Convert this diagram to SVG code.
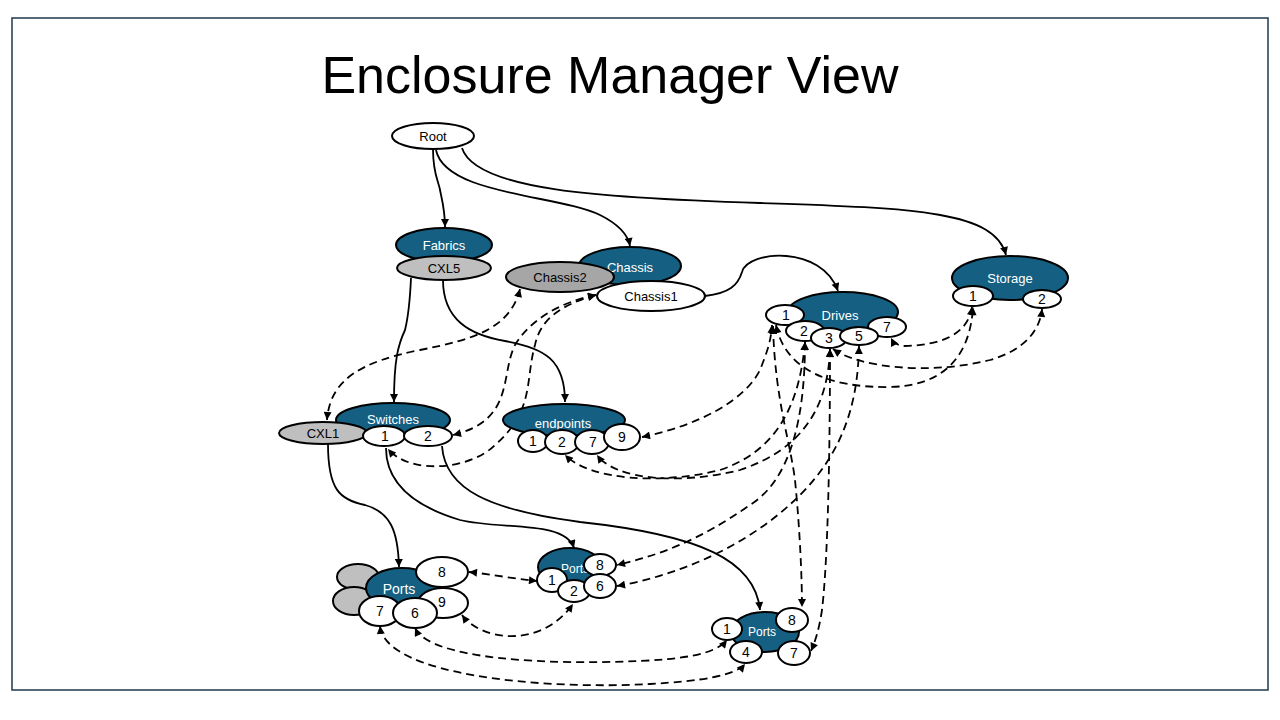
<svg xmlns="http://www.w3.org/2000/svg" width="1280" height="720" viewBox="0 0 1280 720">
<defs>
<marker id="ah" viewBox="0 0 10 10" refX="10" refY="5" markerWidth="9" markerHeight="8" markerUnits="userSpaceOnUse" orient="auto-start-reverse">
<path d="M0,0 L10,5 L0,10 z" fill="#000"/>
</marker>
</defs>
<style>
.frame{fill:#fff;stroke:#1e3a4c;stroke-width:1.5}
.title{font-family:"Liberation Sans",Arial,sans-serif;font-size:52px;fill:#000}
.b{fill:#156082;stroke:#000;stroke-width:2}
.w{fill:#fff;stroke:#000;stroke-width:2}
.g{fill:#bfbfbf;stroke:#000;stroke-width:2}
.g2{fill:#a6a6a6;stroke:#000;stroke-width:2}
text{font-family:"Liberation Sans",Arial,sans-serif;font-size:13px;text-anchor:middle}
.lw{fill:#fff}
.lk{fill:#000}
.n{fill:#000;font-size:14px}
.s{fill:none;stroke:#000;stroke-width:1.8;marker-end:url(#ah)}
.d{fill:none;stroke:#000;stroke-width:1.8;stroke-dasharray:8,5;marker-start:url(#ah);marker-end:url(#ah)}
</style>
<rect class="frame" x="12" y="18" width="1256" height="672"/>
<text class="title" x="610" y="93">Enclosure Manager View</text>

<g id="connectors">
<path class="s" d="M433,149 C433,175 439,182 440,190 C442,200 445,210 445,227"/>
<path class="s" d="M436,150 C445,195 560,195 600,215 C620,225 628,235 630,246"/>
<path class="s" d="M462,148 C475,190 600,198 760,203 C920,208 995,212 1006,255"/>
<path class="s" d="M705,296 C730,293 738,285 742,272 C748,250 822,245 838,291"/>
<path class="s" d="M411,278 C410,300 408,318 405,330 C398,345 394,360 394,402"/>
<path class="s" d="M443,280 C443,320 470,335 505,341 C545,348 565,360 565,402"/>
<path class="s" d="M328,444 C328,490 340,500 365,505 C390,512 398,530 399,567"/>
<path class="s" d="M386,448 C386,480 410,505 460,520 C500,530 565,520 574,548"/>
<path class="s" d="M442,446 C445,490 490,510 580,522 C700,535 755,560 760,610"/>

<path class="d" d="M520,289 C510,330 470,340 420,350 C360,362 330,380 327,420"/>
<path class="d" d="M596,295 C560,302 530,320 515,345 C500,375 515,420 453,435"/>
<path class="d" d="M596,295 C560,305 540,320 535,345 C525,380 535,410 495,445 C470,470 410,475 388,449"/>
<path class="d" d="M642,437 C700,425 745,400 760,370 C768,350 771,340 772,325"/>
<path class="d" d="M773,326 C775,400 790,440 795,480 C800,530 802,580 802,607"/>
<path class="d" d="M776,325 C785,370 830,388 890,387 C940,386 970,360 973,307"/>
<path class="d" d="M972,307 C968,335 940,345 905,346 C897,346 893,342 891,338"/>
<path class="d" d="M833,349 C860,368 930,375 990,360 C1025,350 1040,330 1042,309"/>
<path class="d" d="M805,342 C800,400 780,450 720,470 C660,485 590,480 565,455"/>
<path class="d" d="M830,349 C828,410 800,450 740,470 C680,485 615,480 597,455"/>
<path class="d" d="M805,342 C805,420 790,480 750,505 C700,540 660,555 617,565"/>
<path class="d" d="M859,346 C858,400 845,450 800,495 C750,545 680,575 617,586"/>
<path class="d" d="M830,349 C830,450 828,560 822,610 C819,630 815,642 811,651"/>
<path class="d" d="M469,572 C490,574 515,579 537,581"/>
<path class="d" d="M462,615 C480,640 540,650 573,604"/>
<path class="d" d="M415,628 C430,660 550,665 640,661 C680,659 715,655 727,640"/>
<path class="d" d="M380,626 C385,675 540,690 650,684 C700,681 735,676 745,664"/>
</g>

<g id="root">
<ellipse class="w" cx="433" cy="136" rx="41" ry="13"/>
<text class="lk" x="433" y="141">Root</text>
</g>

<g id="fabrics">
<ellipse class="b" cx="444" cy="245" rx="48" ry="17"/>
<text class="lw" x="444" y="250">Fabrics</text>
<ellipse class="g" cx="444" cy="268" rx="47" ry="12"/>
<text class="lk" x="444" y="273">CXL5</text>
</g>

<g id="chassis">
<ellipse class="b" cx="630" cy="266" rx="51" ry="19"/>
<text class="lw" x="630" y="272">Chassis</text>
<ellipse class="g2" cx="560" cy="277" rx="54" ry="15"/>
<text class="lk" x="560" y="282">Chassis2</text>
<ellipse class="w" cx="651" cy="296" rx="54" ry="15"/>
<text class="lk" x="651" y="301">Chassis1</text>
</g>

<g id="drives">
<ellipse class="b" cx="843" cy="312" rx="55" ry="20"/>
<text class="lw" x="840" y="320">Drives</text>
<ellipse class="w" cx="887" cy="327" rx="19" ry="10"/>
<text class="n" x="887" y="332">7</text>
<ellipse class="w" cx="785" cy="315" rx="19" ry="10"/>
<text class="n" x="786" y="320">1</text>
<ellipse class="w" cx="805" cy="331" rx="19" ry="10"/>
<text class="n" x="804" y="336">2</text>
<ellipse class="w" cx="829" cy="338" rx="18" ry="10"/>
<text class="n" x="829" y="343">3</text>
<ellipse class="w" cx="859" cy="336" rx="19" ry="9"/>
<text class="n" x="859" y="341">5</text>
</g>

<g id="storage">
<ellipse class="b" cx="1010" cy="278" rx="58" ry="22"/>
<text class="lw" x="1010" y="283">Storage</text>
<ellipse class="w" cx="973" cy="296" rx="20" ry="10"/>
<text class="n" x="973" y="301">1</text>
<ellipse class="w" cx="1042" cy="299" rx="19" ry="9"/>
<text class="n" x="1042" y="304">2</text>
</g>

<g id="switches">
<ellipse class="b" cx="393" cy="420" rx="57" ry="17"/>
<text class="lw" x="393" y="424">Switches</text>
<ellipse class="g" cx="323" cy="433" rx="44" ry="11"/>
<text class="lk" x="323" y="438">CXL1</text>
<ellipse class="w" cx="384" cy="436" rx="21" ry="10"/>
<text class="n" x="385" y="441">1</text>
<ellipse class="w" cx="428" cy="436" rx="24" ry="10"/>
<text class="n" x="428" y="441">2</text>
</g>

<g id="endpoints">
<ellipse class="b" cx="564" cy="420" rx="61" ry="16"/>
<text class="lw" x="563" y="428">endpoints</text>
<ellipse class="w" cx="533" cy="441" rx="15" ry="11"/>
<text class="n" x="533" y="446">1</text>
<ellipse class="w" cx="562" cy="442" rx="17" ry="12"/>
<text class="n" x="562" y="447">2</text>
<ellipse class="w" cx="592" cy="442" rx="17" ry="12"/>
<text class="n" x="593" y="447">7</text>
<ellipse class="w" cx="622" cy="437" rx="18" ry="13"/>
<text class="n" x="622" y="442">9</text>
</g>

<g id="ports-left">
<ellipse class="g" cx="358" cy="577" rx="21" ry="13"/>
<ellipse class="g" cx="354" cy="601" rx="21" ry="14"/>
<ellipse class="b" cx="402" cy="588" rx="36" ry="20"/>
<text class="lw" x="399" y="594" style="font-size:14px">Ports</text>
<ellipse class="w" cx="442" cy="572" rx="26" ry="15"/>
<text class="n" x="442" y="577">8</text>
<ellipse class="w" cx="443" cy="603" rx="25" ry="15"/>
<text class="n" x="442" y="607">9</text>
<ellipse class="w" cx="380" cy="611" rx="21" ry="15"/>
<text class="n" x="380" y="616">7</text>
<ellipse class="w" cx="415" cy="613" rx="22" ry="15"/>
<text class="n" x="415" y="618">6</text>
</g>

<g id="ports-mid">
<ellipse class="b" cx="570" cy="567" rx="32" ry="19"/>
<text class="lw" x="575" y="573" style="font-size:12px">Ports</text>
<ellipse class="w" cx="552" cy="580" rx="15" ry="12"/>
<text class="n" x="552" y="585">1</text>
<ellipse class="w" cx="574" cy="591" rx="16" ry="11"/>
<text class="n" x="574" y="596">2</text>
<ellipse class="w" cx="600" cy="565" rx="16" ry="11"/>
<text class="n" x="600" y="570">8</text>
<ellipse class="w" cx="600" cy="586" rx="16" ry="12"/>
<text class="n" x="600" y="591">6</text>
</g>

<g id="ports-right">
<ellipse class="b" cx="765" cy="632" rx="34" ry="20"/>
<text class="lw" x="762" y="636" style="font-size:12px">Ports</text>
<ellipse class="w" cx="727" cy="629" rx="15" ry="11"/>
<text class="n" x="727" y="634">1</text>
<ellipse class="w" cx="792" cy="620" rx="16" ry="12"/>
<text class="n" x="792" y="625">8</text>
<ellipse class="w" cx="746" cy="652" rx="16" ry="11"/>
<text class="n" x="746" y="657">4</text>
<ellipse class="w" cx="794" cy="653" rx="16" ry="12"/>
<text class="n" x="794" y="658">7</text>
</g>
</svg>
